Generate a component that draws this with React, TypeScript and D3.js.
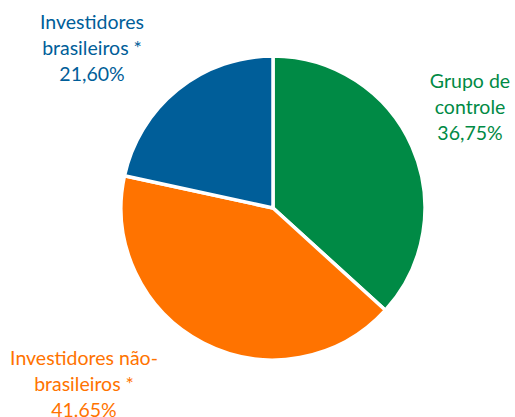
import { useRef, useEffect } from "react";
import * as d3 from "d3";

const categories = ["Grupo de controle", "Investidores não-brasileiros *", "Investidores brasileiros *"];
const values = [36.75, 41.65, 21.6];
const colors = ["#008A45", "#FF7300", "#005E99"];
const labelLines = [
  ["Grupo de", "controle", "36,75%"],
  ["Investidores não-", "brasileiros *", "41.65%"],
  ["Investidores", "brasileiros *", "21,60%"],
];

const width = 515;
const height = 417;

export default function App() {
  const svgRef = useRef<SVGSVGElement>(null);

  useEffect(() => {
    if (!svgRef.current) return;
    const svg = d3.select(svgRef.current);
    svg.selectAll("*").remove();

    const cx = 273;
    const cy = 208;
    const r = 152;

    const pie = d3
      .pie<number>()
      .sort(null)
      .value((d) => d);
    const arcs = pie(values);
    const arc = d3.arc<d3.PieArcDatum<number>>().innerRadius(0).outerRadius(r);

    const g = svg.append("g").attr("transform", `translate(${cx},${cy})`);
    g.selectAll("path")
      .data(arcs)
      .join("path")
      .attr("d", arc)
      .attr("fill", (_, i) => colors[i])
      .attr("stroke", "#fff")
      .attr("stroke-width", 3.5)
      .attr("stroke-linejoin", "round");

    // label anchors (center x, first baseline)
    const labelPos: [number, number][] = [
      [470, 88],
      [84, 365],
      [92, 29],
    ];
    const lineH = 26;

    categories.forEach((_, i) => {
      const t = svg
        .append("text")
        .attr("text-anchor", "middle")
        .attr("fill", colors[i])
        .attr("font-family", "Lato, 'Open Sans', sans-serif")
        .attr("font-size", 19.5);
      labelLines[i].forEach((line, j) => {
        t.append("tspan")
          .attr("x", labelPos[i][0])
          .attr("y", labelPos[i][1] + j * lineH)
          .text(line);
      });
    });
  }, []);

  return (
    <svg
      ref={svgRef}
      width={width}
      height={height}
      style={{ position: "absolute", left: 0, top: 0, background: "#fff" }}
    />
  );
}
